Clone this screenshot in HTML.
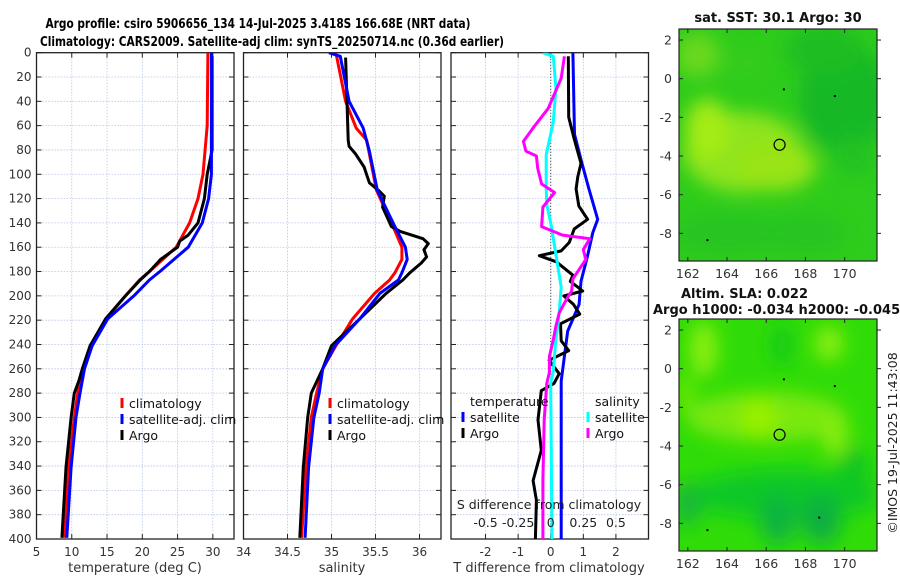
<!DOCTYPE html>
<html><head><meta charset="utf-8"><style>
html,body{margin:0;padding:0;background:#fff;}
svg{display:block;font-family:"DejaVu Sans","Liberation Sans",sans-serif;}
</style></head><body>
<svg id="fig" width="900" height="580" viewBox="0 0 900 580" xmlns="http://www.w3.org/2000/svg">
<defs>
<filter id="blur1" x="-50%" y="-50%" width="200%" height="200%"><feGaussianBlur stdDeviation="9"/></filter>
<clipPath id="clipMap1"><rect x="679" y="29" width="198" height="232"/></clipPath>
<clipPath id="clipMap2"><rect x="679" y="319" width="198" height="232"/></clipPath>
<clipPath id="clipP1"><rect x="36.5" y="52.7" width="197.5" height="486.3"/></clipPath>
<clipPath id="clipP2"><rect x="243.5" y="52.7" width="197.5" height="486.3"/></clipPath>
<clipPath id="clipP3"><rect x="451" y="52.7" width="197.5" height="486.3"/></clipPath>
</defs>
<text x="258" y="28" font-size="13" font-weight="bold" text-anchor="middle" textLength="425" lengthAdjust="spacingAndGlyphs">Argo profile: csiro 5906656_134 14-Jul-2025 3.418S 166.68E (NRT data)</text>
<text x="272" y="46" font-size="13" font-weight="bold" text-anchor="middle" textLength="464" lengthAdjust="spacingAndGlyphs">Climatology: CARS2009. Satellite-adj clim: synTS_20250714.nc (0.36d earlier)</text>
<g id="plots"></g>
<g id="maps"></g>
</svg>
<script>
// ---------- data ----------
const depthTicks = [0,20,40,60,80,100,120,140,160,180,200,220,240,260,280,300,320,340,360,380,400];
const tTicks = [5,10,15,20,25,30];
const sTicks = [34,34.5,35,35.5,36];
const dTTicks = [-2,-1,0,1,2];
const dSTicks = [-0.5,-0.25,0,0.25,0.5];
const dSTickLabels = ["-0.5","-0.25","0","0.25","0.5"];

const climTDepth = [0,60,100,120,140,160,180,187,200,219,241,260,280,300,341,399];
const climTVal   = [29.3,29.2,28.6,27.9,26.7,24.8,21.0,19.6,17.6,14.85,12.7,11.55,10.84,10.36,9.56,8.95];
const satTDepth  = [0,60,100,120,140,160,180,187,200,219,241,260,280,300,341,399];
const satTVal    = [29.8,29.8,29.8,29.4,28.5,26.5,22.5,21.0,18.8,15.1,12.9,11.8,11.17,10.6,9.9,9.3];
const argoTDepth = [3,80,100,120,140,150,155,160,170,180,187,200,219,241,260,270,280,300,341,399];
const argoTVal   = [29.9,29.9,29.2,28.8,27.9,26.5,25.3,25.0,22.6,21.0,19.7,17.6,14.8,12.6,11.5,11.0,10.36,9.9,9.18,8.6];

const climSDepth = [0,40,62,72,113,143,160,170,181,187,198,219,241,260,280,300,341,399];
const climSVal   = [35.05,35.16,35.28,35.4,35.51,35.7,35.8,35.8,35.72,35.66,35.49,35.24,35.05,34.9,34.83,34.77,34.71,34.66];
const satSDepth  = [0,3,40,62,81,113,143,160,170,181,187,198,219,241,260,280,300,341,399];
const satSVal    = [34.97,35.1,35.2,35.36,35.43,35.52,35.72,35.84,35.86,35.8,35.76,35.55,35.32,35.04,34.9,34.86,34.8,34.74,34.7];
const argoSDepth = [4,72,77,83,94,107,113,118,127,143,147,153,157,162,168,173,181,187,198,219,241,260,280,300,341,399];
const argoSVal   = [35.16,35.19,35.2,35.27,35.37,35.43,35.53,35.6,35.58,35.68,35.78,36.04,36.1,36.05,36.08,36.02,35.89,35.81,35.62,35.32,35.0,34.9,34.77,34.73,34.68,34.64];

const dTSatDepth = [0,67,88,112,137,148,167,188,207,229,270,400];
const dTSatVal   = [0.68,0.73,0.93,1.17,1.44,1.29,1.13,0.93,0.87,0.52,0.32,0.32];
const dTArgoDepth= [3,53,70,91,102,112,126,137,145,156,163,167,172,183,188,196,200,207,215,223,237,245,253,264,272,278,302,327,352,368,400];
const dTArgoVal  = [0.54,0.55,0.71,0.93,0.83,0.78,0.86,1.13,0.72,0.57,0.32,-0.35,0.17,0.68,0.6,0.98,0.4,0.7,0.89,0.3,0.32,0.55,-0.05,0.26,0.1,-0.29,-0.39,-0.29,-0.54,-0.44,-0.47];
const dSSatDepth = [0,3,29,57,84,111,125,142,166,193,221,235,262,272,400];
const dSSatVal   = [-0.06,0.02,0.04,0.02,-0.035,-0.035,-0.03,0.004,0.04,0.08,0.06,0.04,0.02,0.0,0.01];
const dSArgoDepth= [3,21,46,62,73,81,85,95,108,115,127,143,150,153,162,170,178,186,196,203,214,225,236,250,263,272,302,352,400];
const dSArgoVal  = [0.105,0.08,-0.02,-0.136,-0.21,-0.19,-0.11,-0.1,-0.07,0.03,-0.06,-0.07,0.09,0.30,0.25,0.27,0.22,0.17,0.16,0.12,0.065,0.04,0.02,-0.01,-0.01,-0.03,-0.05,-0.06,-0.06];

// ---------- axes ----------
const NS="http://www.w3.org/2000/svg";
const Y0=52.7, Y1=539;
const yD = d => Y0 + (d/400)*(Y1-Y0);
const P1={x0:36.5,x1:234,lo:5,hi:33};
const P2={x0:243.5,x1:441,lo:34,hi:36.244};
const P3={x0:451,x1:648.5,lo:-3.06,hi:3.0};
const sx = (p,v)=> p.x0 + (v-p.lo)/(p.hi-p.lo)*(p.x1-p.x0);
const xT = v=>sx(P1,v), xS = v=>sx(P2,v), xDT = v=>sx(P3,v);
const xDS = v=> xDT(v*4);

const plots=document.getElementById('plots');
function el(tag,attrs,parent){const e=document.createElementNS(NS,tag);for(const k in attrs)e.setAttribute(k,attrs[k]);(parent||plots).appendChild(e);return e;}
function txt(s,attrs,parent){const e=el('text',attrs,parent);e.textContent=s;return e;}

function panel(p,name,xticks,xfn,labels,showY){
  const g=el('g',{});
  
  
  for(const d of depthTicks){ if(d===0||d===400)continue;
    const l=el('line',{x1:p.x0,x2:p.x1,y1:yD(d),y2:yD(d),stroke:'#b8c4e8','stroke-width':0.8,'stroke-dasharray':'1.5,1.5'},g);
    
    
  }
  xticks.forEach((v,i)=>{const x=xfn(v);
    if(x>p.x0+1&&x<p.x1-1){const l=el('line',{x1:x,x2:x,y1:Y0,y2:Y1,stroke:'#b8c4e8','stroke-width':0.8,'stroke-dasharray':'1.5,1.5'},g);
      
      }
    el('line',{x1:x,x2:x,y1:Y1,y2:Y1-5,stroke:'#222'},g);
    el('line',{x1:x,x2:x,y1:Y0,y2:Y0+5,stroke:'#222'},g);
    const t=txt(labels[i],{x:x,y:556,'font-size':12,'text-anchor':'middle',fill:'#333'},g);
    
    
  });
  for(const d of depthTicks){
    el('line',{x1:p.x0,x2:p.x0+5,y1:yD(d),y2:yD(d),stroke:'#222'},g);
    el('line',{x1:p.x1,x2:p.x1-5,y1:yD(d),y2:yD(d),stroke:'#222'},g);
    if(showY){const t=txt(String(d),{x:p.x0-5,y:yD(d)+4,'font-size':12,'text-anchor':'end',fill:'#333'},g);
      
      }
  }
  const r=el('rect',{x:p.x0,y:Y0,width:p.x1-p.x0,height:Y1-Y0,fill:'none',stroke:'#222','stroke-width':1.3},g);
  
  
  return g;
}
function line(depths,vals,xfn,color,name,clip){
  const pts=depths.map((d,i)=>xfn(vals[i]).toFixed(1)+','+yD(d).toFixed(1)).join(' ');
  const e=el('polyline',{points:pts,fill:'none',stroke:color,'stroke-width':3,'stroke-linejoin':'round','clip-path':clip});
  
  
}
panel(P1,'temperature-panel',tTicks,xT,tTicks.map(String),true);
panel(P2,'salinity-panel',sTicks,xS,sTicks.map(String),false);
panel(P3,'difference-panel',dTTicks,xDT,dTTicks.map(String),false);

line(climTDepth,climTVal,xT,'#ff0000','temp-climatology-line','url(#clipP1)');
line(argoTDepth,argoTVal,xT,'#000000','temp-argo-line','url(#clipP1)');
line(satTDepth,satTVal,xT,'#0000ff','temp-satellite-line','url(#clipP1)');
line(climSDepth,climSVal,xS,'#ff0000','sal-climatology-line','url(#clipP2)');
line(argoSDepth,argoSVal,xS,'#000000','sal-argo-line','url(#clipP2)');
line(satSDepth,satSVal,xS,'#0000ff','sal-satellite-line','url(#clipP2)');
const zl=el('line',{x1:xDT(0),x2:xDT(0),y1:Y0,y2:Y1,stroke:'#333','stroke-dasharray':'1,2'});


line(dTSatDepth,dTSatVal,xDT,'#0000ff','dT-satellite-line','url(#clipP3)');
line(dTArgoDepth,dTArgoVal,xDT,'#000000','dT-argo-line','url(#clipP3)');
line(dSSatDepth,dSSatVal,xDS,'#00ffff','dS-satellite-line','url(#clipP3)');
line(dSArgoDepth,dSArgoVal,xDS,'#ff00ff','dS-argo-line','url(#clipP3)');

const sl=txt('S difference from climatology',{x:549,y:509,'font-size':12.5,'text-anchor':'middle',fill:'#222'});


dSTicks.forEach((v,i)=>{const t=txt(dSTickLabels[i],{x:xDS(v),y:527,'font-size':12.5,'text-anchor':'middle',fill:'#222'});
  
  });

[['temperature (deg C)',135,'temperature-axis-title'],['salinity',342,'salinity-axis-title'],['T difference from climatology',549,'t-diff-axis-title']].forEach(a=>{
  const t=txt(a[0],{x:a[1],y:572,'font-size':13,'text-anchor':'middle',fill:'#333'});
  
  });

function legEntry(x,y,color,label,name){
  const g=el('g',{});
  
  
  el('line',{x1:x,x2:x,y1:y-10,y2:y,stroke:color,'stroke-width':3},g);
  txt(label,{x:x+7,y:y,'font-size':12.5,fill:'#111'},g);
}
legEntry(122,408,'#ff0000','climatology','legend-climatology');
legEntry(122,424,'#0000ff','satellite-adj. clim','legend-satellite-adj');
legEntry(122,440,'#000000','Argo','legend-argo');
legEntry(330,408,'#ff0000','climatology','legend-climatology-sal');
legEntry(330,424,'#0000ff','satellite-adj. clim','legend-satellite-adj-sal');
legEntry(330,440,'#000000','Argo','legend-argo-sal');
const lt=txt('temperature',{x:470,y:406,'font-size':12.5,fill:'#111'});


const ls=txt('salinity',{x:595,y:406,'font-size':12.5,fill:'#111'});


legEntry(463,422,'#0000ff','satellite','legend-dT-satellite');
legEntry(463,438,'#000000','Argo','legend-dT-argo');
legEntry(588,422,'#00ffff','satellite','legend-dS-satellite');
legEntry(588,438,'#ff00ff','Argo','legend-dS-argo');

// ---------- maps ----------
const lonTicks=[162,164,166,168,170];
const latTicks=[2,0,-2,-4,-6,-8];
const argoLon=166.68, argoLat=-3.418;
const mx = lon => 679 + (lon-161.55)/(171.65-161.55)*198;
function my(top,lat){ return top + (2.57-lat)/(2.57+9.43)*232; }
const maps=document.getElementById('maps');
function mel(tag,attrs,parent){return el(tag,attrs,parent||maps);}
function drawMap(top,name,clip,base,blobs,dots){
  const g=mel('g',{});
  
  
  mel('rect',{x:679,y:top,width:198,height:232,fill:base},g);
  const bg=mel('g',{'clip-path':clip},g);
  const inner=mel('g',{filter:'url(#blur1)'},bg);
  blobs.forEach(b=>mel('ellipse',{cx:mx(b[0]),cy:my(top,b[1]),rx:b[2],ry:b[3],fill:b[4]},inner));
  dots.forEach(d=>mel('rect',{x:mx(d[0])-1,y:my(top,d[1])-1,width:2,height:2,fill:'#000'},bg));
  const c=mel('circle',{cx:mx(argoLon),cy:my(top,argoLat),r:5.5,fill:'none',stroke:'#000','stroke-width':1.2},g);
  
  
  mel('rect',{x:679,y:top,width:198,height:232,fill:'none',stroke:'#222','stroke-width':1.2},g);
  lonTicks.forEach(v=>{const x=mx(v);
    mel('line',{x1:x,x2:x,y1:top+232,y2:top+228,stroke:'#222'},g);
    mel('line',{x1:x,x2:x,y1:top,y2:top+4,stroke:'#222'},g);
    const t=txt(String(v),{x:x,y:top+249,'font-size':12.5,'text-anchor':'middle',fill:'#333'},g);
    
    });
  latTicks.forEach(v=>{const y=my(top,v);
    mel('line',{x1:679,x2:683,y1:y,y2:y,stroke:'#222'},g);
    mel('line',{x1:877,x2:881,y1:y,y2:y,stroke:'#222'},g);
    const t=txt(String(v),{x:672,y:y+4.5,'font-size':12.5,'text-anchor':'end',fill:'#333'},g);
    
    });
}
drawMap(29,'sst-map','url(#clipMap1)','#2ecc1c',[
  [164.8,-3.8,60,40,'#8ee41a'],[163,-2.6,22,30,'#a4ec14'],[166.5,-4.5,40,25,'#98e418'],[162.5,1.2,22,22,'#6ad81c'],
  [170,-1,45,55,'#16b828'],[169,1.5,40,25,'#1cbe24'],[170.5,-4,20,20,'#22c224'],[164,-8,55,20,'#26c420'],[168,-8,40,20,'#28c520'],[165,0.8,20,15,'#34cc1e']
],[[166.9,-0.55],[169.5,-0.9],[163,-8.35]]);
drawMap(319,'sla-map','url(#clipMap2)','#30dc08',[
  [166,-2.5,80,25,'#7ae810'],[162.8,1,14,28,'#8aee0a'],[165.6,-2.5,18,18,'#98f004'],[169.2,1.3,14,18,'#8aee08'],[169.5,-3.4,14,22,'#86ec0a'],[161.9,-1.3,6,18,'#86ec0a'],
  [166.8,1.2,12,22,'#16cc18'],[167,-6.5,95,25,'#0ec828'],[166.6,-7.8,18,25,'#0bb440'],[168.8,-7.8,20,25,'#08b040'],[162,-7,14,22,'#14b838'],[170.5,-5,14,18,'#10c422']
],[[166.9,-0.55],[169.5,-0.9],[163,-8.35],[168.7,-7.7]]);
const t1=txt('sat. SST: 30.1 Argo: 30',{x:778,y:22,'font-size':13,'font-weight':'bold','text-anchor':'middle',fill:'#111'},maps);


const t2=txt('Altim. SLA: 0.022',{x:681,y:298,'font-size':13,'font-weight':'bold',fill:'#111'},maps);


const t3=txt('Argo h1000: -0.034 h2000: -0.045',{x:653,y:314,'font-size':13,'font-weight':'bold',fill:'#111'},maps);


const t4=txt('©IMOS 19-Jul-2025 11:43:08',{x:0,y:0,'font-size':12.5,'text-anchor':'middle',fill:'#222',transform:'translate(897,443) rotate(-90)'},maps);


</script>
</body></html>
